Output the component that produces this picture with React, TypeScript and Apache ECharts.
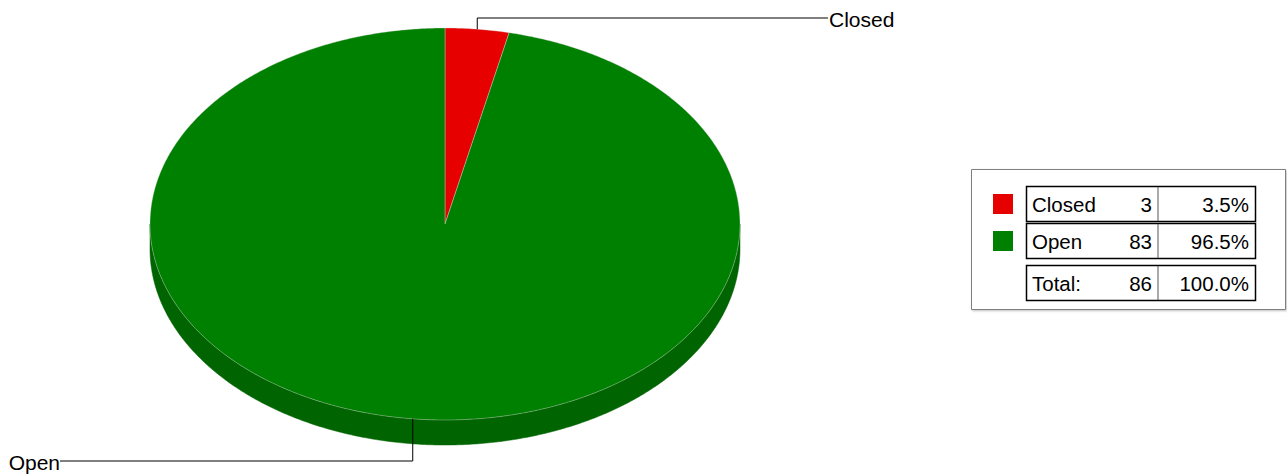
import React, { useEffect, useRef } from "react";
import * as echarts from "echarts";

const categories = ["Closed", "Open"];
const counts = [3, 83];
const topColors = ["#e60000", "#008000"];
const sideColors = ["#a00000", "#006400"];
const totalLabel = "Total:";

const FONT = "'Liberation Sans', Arial, sans-serif";

export default function App() {
  const ref = useRef<HTMLDivElement>(null);
  useEffect(() => {
    document.body.style.margin = "0";
    const chart = echarts.init(ref.current!, null, { renderer: "svg" });
    const total = counts.reduce((a, b) => a + b, 0);
    const cx = 445, cy = 224, rx = 295, ry = 196, depth = 25;
    const pt = (deg: number, dy = 0) => {
      const r = (deg * Math.PI) / 180;
      return [cx + rx * Math.sin(r), cy - ry * Math.cos(r) + dy];
    };
    const starts: number[] = [];
    let acc = 0;
    counts.forEach((c) => {
      starts.push((acc / total) * 360);
      acc += c;
    });

    const renderItem = (params: any) => {
      const i = params.dataIndex;
      const a0 = starts[i];
      const a1 = a0 + (counts[i] / total) * 360;
      const children: any[] = [];
      const s0 = Math.max(a0, 90), s1 = Math.min(a1, 270);
      if (s1 > s0) {
        const pts: number[][] = [];
        for (let a = s0; a < s1; a += 0.5) pts.push(pt(a));
        pts.push(pt(s1));
        for (let a = s1; a > s0; a -= 0.5) pts.push(pt(a, depth));
        pts.push(pt(s0, depth));
        children.push({
          type: "polygon",
          shape: { points: pts },
          style: { fill: sideColors[i], stroke: sideColors[i], lineWidth: 0.5 },
          z2: 1,
        });
      }
      const tp: number[][] = [[cx, cy]];
      for (let a = a0; a < a1; a += 0.5) tp.push(pt(a));
      tp.push(pt(a1));
      children.push({
        type: "polygon",
        shape: { points: tp },
        style: { fill: topColors[i], stroke: "rgba(220,220,220,0.6)", lineWidth: 0.6 },
        z2: 2,
      });
      const m = (a0 + a1) / 2;
      const p = pt(m);
      const upper = Math.cos((m * Math.PI) / 180) > 0;
      let line: number[][];
      let tx: number, ty: number, align: string;
      if (upper) {
        line = [p, [p[0], 18], [828, 18]];
        tx = 829; ty = 19; align = "left";
      } else {
        line = [p, [p[0], 461], [60, 461]];
        tx = 60; ty = 462; align = "right";
      }
      children.push({
        type: "polyline",
        shape: { points: line },
        style: { stroke: "#000", lineWidth: 1, fill: null },
        z2: 3,
      });
      children.push({
        type: "text",
        x: tx, y: ty,
        style: {
          text: categories[i], fill: "#000", font: `21px ${FONT}`,
          align, verticalAlign: "middle",
        },
        z2: 3,
      });
      return { type: "group", children };
    };

    const g: any[] = [];
    g.push({
      type: "rect",
      shape: { x: 971.5, y: 169.5, width: 314, height: 140 },
      style: { fill: "#fff", stroke: "#808080", lineWidth: 1, shadowColor: "rgba(0,0,0,0.25)", shadowBlur: 2, shadowOffsetX: 1, shadowOffsetY: 1 },
    });
    const rowTops = [186, 223, 265];
    const rows = categories.map((c, i) => ({
      name: c, count: String(counts[i]), pct: ((counts[i] / total) * 100).toFixed(1) + "%", color: topColors[i],
    }));
    rows.push({ name: totalLabel, count: String(total), pct: "100.0%", color: "" });
    rows.forEach((r, i) => {
      const y = rowTops[i];
      const h = 35;
      if (r.color) {
        g.push({ type: "rect", shape: { x: 993, y: y + 8, width: 20, height: 20 }, style: { fill: r.color } });
      }
      g.push({ type: "rect", shape: { x: 1026.5, y: y + 0.5, width: 229, height: h }, style: { fill: "#fff", stroke: "#000", lineWidth: 1.5 } });
      g.push({ type: "line", shape: { x1: 1158, y1: y + 1, x2: 1158, y2: y + h }, style: { stroke: "#555", lineWidth: 1 } });
      const ty = y + h / 2 + 1;
      const f = `20.5px ${FONT}`;
      g.push({ type: "text", x: 1032, y: ty, style: { text: r.name, font: f, fill: "#000", verticalAlign: "middle", align: "left" } });
      g.push({ type: "text", x: 1152, y: ty, style: { text: r.count, font: f, fill: "#000", verticalAlign: "middle", align: "right" } });
      g.push({ type: "text", x: 1249, y: ty, style: { text: r.pct, font: f, fill: "#000", verticalAlign: "middle", align: "right" } });
    });

    chart.setOption({
      animation: false,
      backgroundColor: "#fff",
      graphic: g,
      series: [
        {
          type: "custom",
          coordinateSystem: "none",
          renderItem,
          data: categories.map((c, i) => ({ name: c, value: counts[i] })),
        },
      ],
    });
    return () => chart.dispose();
  }, []);
  return <div ref={ref} style={{ width: 1287, height: 475 }} />;
}
